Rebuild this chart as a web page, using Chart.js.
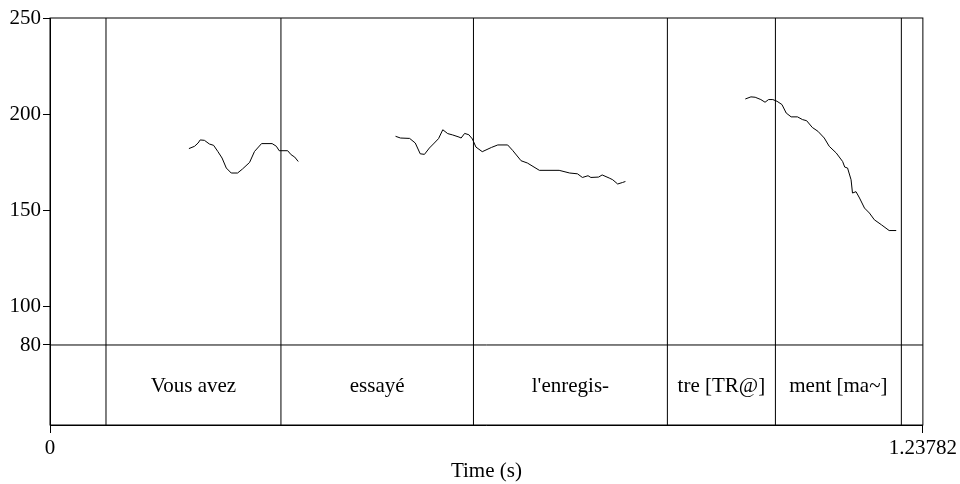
<!DOCTYPE html>
<html>
<head>
<meta charset="utf-8">
<script src="https://cdn.jsdelivr.net/npm/chart.js@4"></script>
<style>
  html, body { margin: 0; padding: 0; background: #fff; }
</style>
</head>
<body>
<canvas id="pitchChart" width="960" height="484"></canvas>
<script>
// pitch track, three voiced stretches (time in s, F0 in Hz)
const seg1Time = [0.197, 0.205, 0.210, 0.213, 0.219, 0.226, 0.232, 0.238, 0.244, 0.250, 0.257, 0.266,
  0.273, 0.283, 0.290, 0.300, 0.315, 0.321, 0.325, 0.337, 0.342, 0.347, 0.352];
const seg1F0 = [182.1, 183.3, 185.0, 186.6, 186.4, 184.5, 183.8, 180.6, 177.2, 172.0, 169.4, 169.4,
  171.5, 174.9, 180.6, 184.7, 184.7, 183.3, 181.0, 181.0, 178.9, 177.7, 175.4];

const seg2Time = [0.490, 0.497, 0.510, 0.518, 0.525, 0.531, 0.538, 0.545, 0.551, 0.557, 0.564, 0.571,
  0.580, 0.583, 0.588, 0.594, 0.599, 0.604, 0.613, 0.626, 0.635, 0.649, 0.656, 0.668, 0.677, 0.694,
  0.722, 0.737, 0.748, 0.755, 0.763, 0.767, 0.778, 0.783, 0.793, 0.798, 0.805, 0.812, 0.816];
const seg2F0 = [188.5, 187.6, 187.4, 185.0, 179.4, 179.1, 182.4, 185.0, 187.3, 191.9, 189.9, 189.2,
  188.1, 187.6, 190.0, 189.3, 187.1, 182.9, 180.5, 182.7, 184.0, 184.0, 181.2, 175.8, 174.6, 170.8,
  170.8, 169.4, 169.0, 167.1, 168.0, 167.1, 167.3, 168.4, 166.8, 165.9, 163.7, 164.5, 165.0];

const seg3Time = [0.986, 0.994, 1.000, 1.008, 1.014, 1.019, 1.025, 1.031, 1.038, 1.044, 1.051, 1.060,
  1.067, 1.073, 1.081, 1.089, 1.098, 1.105, 1.115, 1.124, 1.127, 1.131, 1.136, 1.138, 1.143, 1.148,
  1.155, 1.162, 1.169, 1.179, 1.190, 1.200];
const seg3F0 = [207.9, 209.0, 208.8, 207.6, 206.2, 207.6, 207.6, 206.7, 205.0, 200.6, 198.6, 198.6,
  197.2, 196.6, 193.1, 191.1, 187.6, 183.3, 179.8, 175.4, 172.5, 172.0, 165.9, 159.0, 159.7, 156.4,
  151.2, 148.6, 145.1, 142.5, 139.5, 139.5];

// text tier
const boundaryTimes = [0.0794, 0.3275, 0.6005, 0.8755, 1.0287, 1.2073];
const tierLabels = ["Vous avez", "essayé", "l'enregis-", "tre [TR@]", "ment [ma~]"];
const tierTop = 80;

// axes
const yTicks = [80, 100, 150, 200, 250];
const xTicks = [0, 1.23782];
const xMax = 1.23782;
const yMin = 38.4;
const yMax = 250;

const FONT = { family: "'Liberation Serif', 'Times New Roman', serif", size: 21 };

function toPoints(ts, vs) {
  return ts.map((t, i) => ({ x: t, y: vs[i] }));
}

const lineStyle = { borderColor: "#000", borderWidth: 1, pointRadius: 0, fill: false, tension: 0 };

const datasets = [
  { data: toPoints(seg1Time, seg1F0), ...lineStyle },
  { data: toPoints(seg2Time, seg2F0), ...lineStyle },
  { data: toPoints(seg3Time, seg3F0), ...lineStyle },
  { data: [{ x: 0, y: tierTop }, { x: xMax, y: tierTop }], ...lineStyle }
];
boundaryTimes.forEach(t => {
  datasets.push({ data: [{ x: t, y: yMin }, { x: t, y: yMax }], ...lineStyle });
});

// box round the plot + labels of the text tier
const tierPlugin = {
  id: "tier",
  afterDatasetsDraw(chart) {
    const { ctx, chartArea, scales } = chart;
    ctx.save();
    ctx.strokeStyle = "#000";
    ctx.lineWidth = 1;
    ctx.strokeRect(chartArea.left, chartArea.top, chartArea.right - chartArea.left, chartArea.bottom - chartArea.top);

    ctx.fillStyle = "#000";
    ctx.font = `${FONT.size}px ${FONT.family}`;
    ctx.textAlign = "center";
    ctx.textBaseline = "middle";
    const yText = scales.y.getPixelForValue((yMin + tierTop) / 2) + 1;
    tierLabels.forEach((label, i) => {
      const mid = (boundaryTimes[i] + boundaryTimes[i + 1]) / 2;
      ctx.fillText(label, scales.x.getPixelForValue(mid), yText);
    });
    ctx.restore();
  }
};

new Chart(document.getElementById("pitchChart"), {
  type: "line",
  data: { datasets },
  options: {
    responsive: false,
    animation: false,
    layout: { padding: { top: 18, right: 36, bottom: 0, left: 0 } },
    plugins: { legend: { display: false }, tooltip: { enabled: false } },
    scales: {
      x: {
        type: "linear",
        min: 0,
        max: xMax,
        afterBuildTicks: s => { s.ticks = xTicks.map(v => ({ value: v })); },
        afterFit: s => { s.height = 59; },
        grid: { drawOnChartArea: false, tickLength: 8, color: "#000" },
        border: { color: "#000", width: 1 },
        ticks: {
          font: FONT, color: "#000", padding: 3, maxRotation: 0, autoSkip: false,
          callback: v => String(v)
        },
        title: { display: true, text: "Time (s)", font: FONT, color: "#000", padding: { top: 0, bottom: 0 } }
      },
      y: {
        type: "linear",
        min: yMin,
        max: yMax,
        afterBuildTicks: s => { s.ticks = yTicks.map(v => ({ value: v })); },
        afterFit: s => { s.width = 50; },
        grid: { drawOnChartArea: false, tickLength: 7, color: "#000" },
        border: { color: "#000", width: 1 },
        ticks: { font: FONT, color: "#000", padding: 2, autoSkip: false, callback: v => String(v) }
      }
    }
  },
  plugins: [tierPlugin]
});
</script>
</body>
</html>
